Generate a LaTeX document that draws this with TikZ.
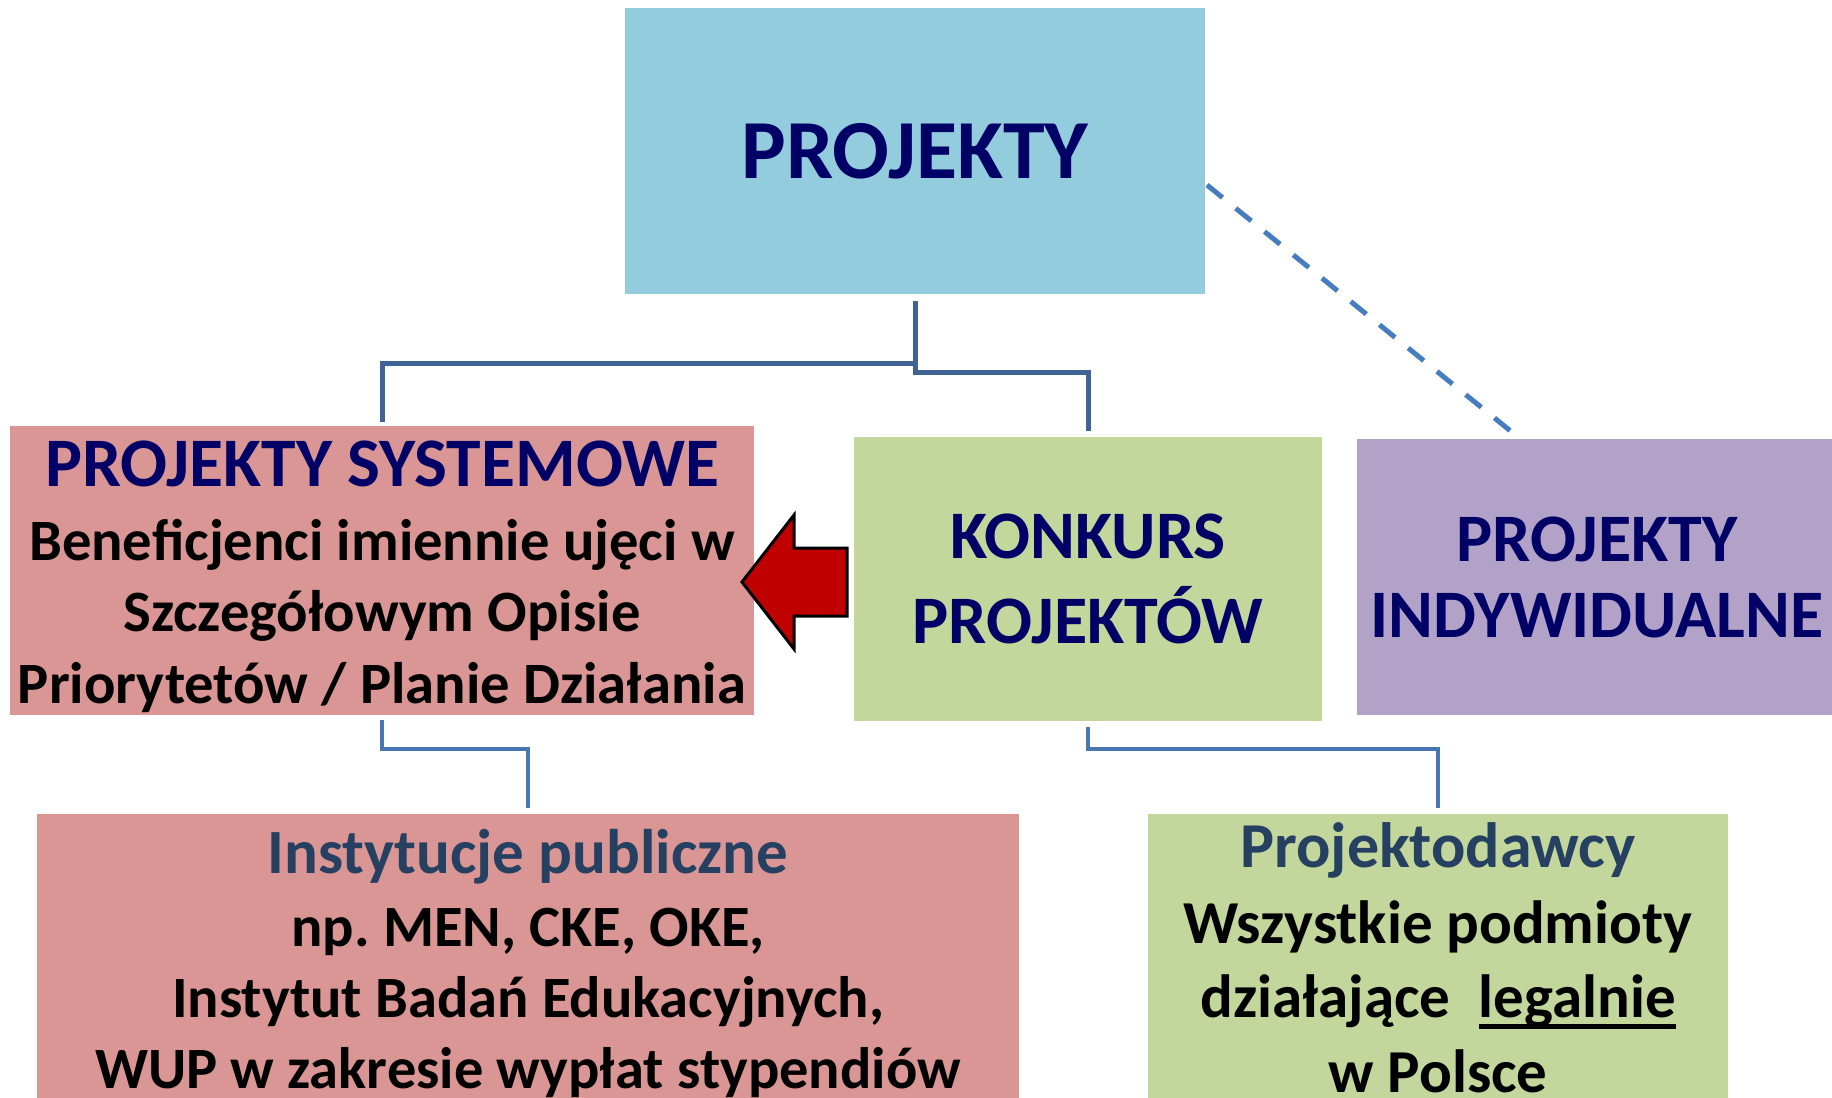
\documentclass[tikz,border=0pt]{standalone}
\usepackage{fontspec}
\setmainfont{Carlito}
\definecolor{topblue}{RGB}{147,205,221}
\definecolor{pinkbox}{RGB}{217,150,148}
\definecolor{greenbox}{RGB}{195,214,155}
\definecolor{violetbox}{RGB}{179,162,199}
\definecolor{navytext}{RGB}{0,0,102}
\definecolor{slatetext}{RGB}{38,64,98}
\definecolor{linkdark}{RGB}{62,99,148}
\definecolor{linkblue}{RGB}{72,118,176}
\definecolor{dashblue}{RGB}{70,125,190}
\definecolor{arrowred}{RGB}{192,0,0}
\newcommand{\thickul}[1]{\setbox0=\hbox{#1}\rlap{\rule[-12pt]{\wd0}{5pt}}\box0}
\frenchspacing
\begin{document}
\begin{tikzpicture}[x=1pt,y=-1pt,
    box/.style={rectangle, inner sep=0pt, outer sep=0pt, align=center, font=\bfseries},
    link/.style={draw=linkdark, line width=5pt},
    lowlink/.style={draw=linkblue, line width=4.5pt},
    dashlink/.style={draw=dashblue, line width=5pt, dash pattern=on 20pt off 17pt}]
  \useasboundingbox (0,0) rectangle (1832,1098);

  \node (top) [box, fill=topblue, minimum width=580, minimum height=286,
    text=navytext, font=\bfseries\fontsize{84}{100}\selectfont] at (915,151) {PROJEKTY};

  \node (sys) [box, fill=pinkbox, minimum width=744, minimum height=287,
    font=\bfseries\fontsize{58.6}{72}\selectfont] at (382,570.5)
    {\rule{0pt}{60pt}{\color{navytext}\fontsize{69.5}{75}\selectfont PROJEKTY SYSTEMOWE}\\[2pt]
     Beneficjenci imiennie ujęci w\\[-1pt]
     Szczegółowym Opisie\\
     Priorytetów / Planie Działania\rule[-12pt]{0pt}{12pt}};

  \node (konk) [box, fill=greenbox, minimum width=468, minimum height=284,
    text=navytext, font=\bfseries\fontsize{68}{85}\selectfont] at (1088,579)
    {KONKURS\\PROJEKTÓW};

  \node (indyw) [box, fill=violetbox, minimum width=480, minimum height=276,
    text=navytext, font=\bfseries\fontsize{68}{76}\selectfont] at (1597,577)
    {PROJEKTY\\INDYWIDUALNE};

  \node (inst) [box, fill=pinkbox, minimum width=982, minimum height=299,
    font=\bfseries\fontsize{58.5}{71}\selectfont] at (528,963.5)
    {{\color{slatetext}\fontsize{63}{71}\selectfont Instytucje publiczne}\\[2pt]
     np. MEN, CKE, OKE,\\
     Instytut Badań Edukacyjnych,\\
     WUP w zakresie wypłat stypendiów};

  \node (proj) [box, fill=greenbox, minimum width=580, minimum height=287,
    font=\bfseries\fontsize{61}{74}\selectfont] at (1438,957.5)
    {{\color{slatetext}\fontsize{64}{74}\selectfont Projektodawcy}\\[2pt]
     Wszystkie podmioty\\
     działające\hspace*{28pt}\thickul{legalnie}\\[1pt]
     w Polsce};

  \draw [link, shorten <=7pt, shorten >=4pt] (top.south) -- ++(0,69) -| (sys.north);
  \draw [link, shorten <=7pt, shorten >=6pt] (top.south) -- ++(0,78) -| (konk.north);
  \draw [lowlink, shorten <=5pt, shorten >=6pt] (sys.south) -- ++(0,34) -| (inst.north);
  \draw [lowlink, shorten <=6pt, shorten >=6pt] (konk.south) -- ++(0,28) -| (proj.north);
  \draw [dashlink] ([shift={(2,34)}]top.east) -- ([shift={(-84,-6)}]indyw.north);

  \filldraw [fill=arrowred, draw=black, line width=3pt, line join=miter]
    (847,548) -- (794,548) -- (794,515) -- (742,582) -- (794,649) -- (794,616) -- (847,616) -- cycle;
\end{tikzpicture}
\end{document}
